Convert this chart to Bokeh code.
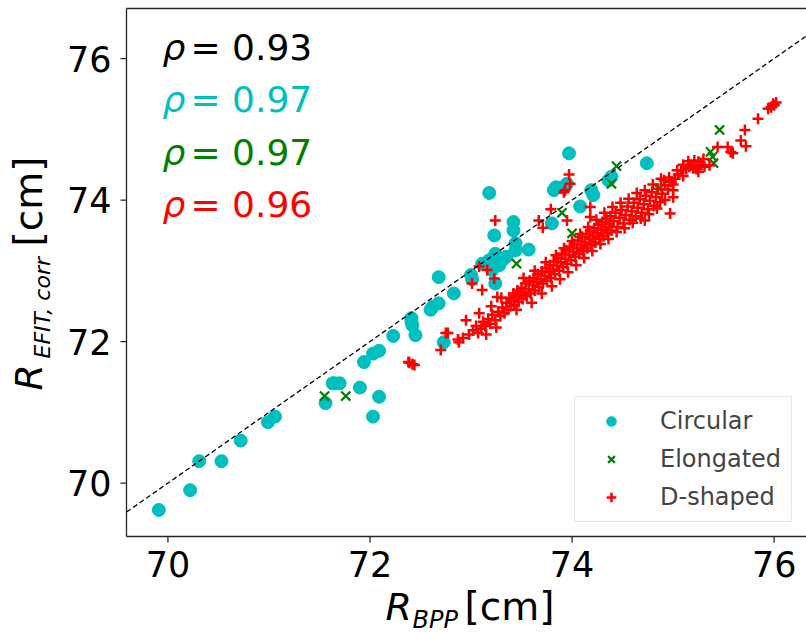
import math
from bokeh.plotting import figure
from bokeh.models import Range1d, Label, Legend, LegendItem
from bokeh.core.properties import value
from bokeh.embed import file_html
from bokeh.resources import INLINE

# ---------------- data ----------------
circ_x = [69.91, 70.22, 70.31, 70.53, 70.72, 70.99, 71.06, 71.56, 71.63, 71.70, 71.65,
          71.90, 72.09, 72.03, 71.94, 72.03, 72.09, 72.23, 72.41, 72.45, 72.42, 72.41,
          72.60, 72.68, 72.62, 72.68, 72.83, 72.73, 73.00, 73.01, 73.24, 73.11, 73.21,
          73.18, 73.31, 73.28, 73.24, 73.35, 73.44, 73.44, 73.57, 73.23, 73.42, 73.42,
          73.80, 73.18, 73.84, 73.82, 73.90, 73.95, 73.97, 74.74, 74.21, 74.19, 74.36,
          74.39, 74.08]
circ_y = [69.62, 69.90, 70.31, 70.31, 70.60, 70.86, 70.94, 71.13, 71.41, 71.41, 71.41,
          71.35, 71.22, 70.94, 71.71, 71.83, 71.87, 72.08, 72.28, 72.09, 72.23, 72.33,
          72.45, 72.54, 72.49, 72.91, 72.68, 71.99, 72.94, 72.88, 72.82, 73.10, 73.01,
          73.15, 73.15, 73.08, 73.24, 73.20, 73.39, 73.29, 73.30, 73.50, 73.69, 73.57,
          73.67, 74.10, 74.18, 74.14, 74.18, 74.23, 74.66, 74.52, 74.07, 74.14, 74.28,
          74.33, 73.91]

elon_x = [71.55, 71.76, 73.45, 73.90, 74.00, 74.44, 74.39, 74.86, 75.46, 75.37, 75.39, 75.40]
elon_y = [71.23, 71.23, 73.10, 73.82, 73.53, 74.48, 74.23, 74.16, 74.99, 74.68, 74.61, 74.52]

dsh_x = [72.38, 72.42, 72.44, 72.39, 72.70, 72.75, 72.77, 72.87, 72.88, 72.95, 73.01, 73.08,
         73.11, 73.16, 73.23, 73.24, 73.26, 73.08, 73.67, 73.71, 73.79, 73.92, 73.95, 73.97,
         73.98, 73.93, 74.18, 74.18, 74.72, 74.97, 74.91, 75.00, 75.00,
         72.92, 72.98, 73.02, 73.05, 73.07, 73.10, 73.12, 73.14, 73.17, 73.19, 73.21, 73.24,
         73.27, 73.29, 73.31, 73.33,
         73.35, 73.36, 73.38, 73.39, 73.40, 73.42, 73.43, 73.45, 73.46, 73.47, 73.49, 73.50,
         73.51, 73.53, 73.54, 73.55, 73.57, 73.58, 73.59, 73.61, 73.62, 73.63, 73.65, 73.66,
         73.67, 73.69, 73.70, 73.71, 73.73, 73.74, 73.75, 73.77, 73.78, 73.79, 73.81, 73.82,
         73.83, 73.85, 73.86, 73.87, 73.89, 73.90, 73.91, 73.93, 73.94, 73.95, 73.97, 73.98,
         73.99, 74.01, 74.02, 74.03, 74.05, 74.06, 74.07, 74.09, 74.10, 74.11, 74.13, 74.14,
         74.15, 74.17, 74.18, 74.19, 74.21, 74.22, 74.23, 74.25, 74.26, 74.27, 74.29, 74.30,
         74.31, 74.33, 74.34, 74.35, 74.37, 74.38, 74.39,
         74.41, 74.43, 74.45, 74.47, 74.49, 74.51, 74.53, 74.55, 74.57, 74.59, 74.61, 74.63,
         74.65, 74.67, 74.69, 74.71, 74.73, 74.75, 74.77, 74.79, 74.81, 74.83, 74.85, 74.87,
         74.89, 74.92, 74.95, 74.98, 75.02, 75.05, 75.08, 75.10, 75.13, 75.16, 75.18, 75.21,
         75.23, 75.25, 75.25, 75.28, 75.31, 75.36,
         75.44, 75.54, 75.57, 75.59, 75.67, 75.71, 75.72, 75.84, 75.94, 75.97, 75.99, 76.00,
         76.02,
         73.45, 73.52, 73.60, 73.63, 73.70, 73.74, 73.80, 73.84, 73.88, 73.92, 73.96, 74.00,
         74.04, 74.08, 74.12, 74.16, 74.20, 74.24, 74.28, 74.32, 74.36, 74.40, 74.44, 74.48,
         74.52, 74.56, 74.60, 74.64, 74.68, 74.72, 74.76, 74.80, 74.84, 74.88, 74.92, 74.96,
         75.00, 75.04, 75.10, 75.15, 75.20, 75.30, 73.20, 73.30, 73.15, 73.25]
dsh_y = [71.71, 71.68, 71.67, 71.70, 71.88, 72.12, 72.12, 72.03, 71.99, 72.30, 72.82, 73.06,
         72.73, 73.01, 72.89, 73.71, 72.63, 72.40, 73.71, 73.61, 73.87, 74.11, 73.71, 74.36,
         74.23, 74.14, 73.90, 73.76, 73.71, 73.81, 74.28, 74.14, 74.04,
         72.05, 72.10, 72.16, 72.22, 72.12, 72.18, 72.28, 72.22, 72.32, 72.25, 72.38, 72.30,
         72.42, 72.36, 72.48, 72.40,
         72.55, 72.45, 72.62, 72.50, 72.58, 72.68, 72.52, 72.64, 72.72, 72.56, 72.66, 72.76,
         72.60, 72.70, 72.82, 72.64, 72.74, 72.86, 72.68, 72.80, 72.90, 72.72, 72.84, 72.95,
         72.77, 72.88, 72.99, 72.82, 72.93, 73.04, 72.86, 72.98, 73.08, 72.90, 73.02, 73.13,
         72.95, 73.07, 73.18, 73.00, 73.12, 73.24, 73.05, 73.17, 73.29, 73.10, 73.22, 73.34,
         73.15, 73.27, 73.38, 73.20, 73.32, 73.43, 73.24, 73.36, 73.48, 73.28, 73.40, 73.52,
         73.32, 73.45, 73.56, 73.36, 73.49, 73.60, 73.40, 73.53, 73.65, 73.45, 73.58, 73.69,
         73.49, 73.62, 73.73, 73.53, 73.66, 73.77, 73.57,
         73.70, 73.82, 73.62, 73.75, 73.86, 73.67, 73.79, 73.91, 73.72, 73.84, 73.96, 73.77,
         73.89, 74.01, 73.82, 73.94, 74.06, 73.87, 73.99, 74.11, 73.92, 74.04, 74.16, 73.97,
         74.09, 74.21, 74.15, 74.26, 74.30, 74.36, 74.42, 74.34, 74.44, 74.47, 74.49, 74.56,
         74.44, 74.54, 74.40, 74.50, 74.47, 74.49,
         74.75, 74.75, 74.68, 74.66, 74.84, 74.99, 74.76, 75.15, 75.29, 75.31, 75.36, 75.34,
         75.38,
         72.45, 72.90, 72.55, 73.00, 72.68, 73.12, 72.78, 73.22, 72.88, 73.32, 72.98, 73.42,
         73.08, 73.52, 73.18, 73.62, 73.28, 73.72, 73.38, 73.82, 73.45, 73.90, 73.55, 73.96,
         73.60, 74.02, 73.68, 74.10, 73.74, 74.14, 73.80, 74.22, 73.88, 74.30, 74.00, 74.32,
         74.22, 74.42, 74.50, 74.55, 74.45, 74.58, 72.50, 72.62, 72.10, 72.20]

x_lim = [69.59, 76.32]
y_lim = [69.245, 76.707]
diag_lim = [69.59, 76.32]          # dashed y = x reference line spans the x limits
x_ticks = [70, 72, 74, 76]
y_ticks = [70, 72, 74, 76]
x_tick_labels = ["70", "72", "74", "76"]
y_tick_labels = ["70", "72", "74", "76"]
series_names = ["Circular", "Elongated", "D-shaped"]
rho_values = ["0.93", "0.97", "0.97", "0.96"]
rho_colors = ["#000000", "#00bfbf", "#008000", "#ff0000"]

FONT = "DejaVu Sans"
W, H = 806, 632
# axes box inside the canvas (pixels): left, right, top, bottom
L, R, T, B = 126, 806, 8, 536
kx = (R - L) / (x_lim[1] - x_lim[0])
ky = (B - T) / (y_lim[1] - y_lim[0])
xr = Range1d(x_lim[0] - L / kx, x_lim[1] + (W - R) / kx)
yr = Range1d(y_lim[0] - (H - B) / ky, y_lim[1] + T / ky)

p = figure(width=W, height=H, x_range=xr, y_range=yr,
           output_backend="svg", toolbar_location=None,
           min_border=0, min_border_left=0, min_border_right=0,
           min_border_top=0, min_border_bottom=0)
p.outline_line_color = None
p.xaxis.visible = False
p.yaxis.visible = False
p.xgrid.visible = False
p.ygrid.visible = False
p.background_fill_color = "white"
p.border_fill_color = "white"

SP = "#262626"
# spines: left, bottom, top
p.segment(x0=[x_lim[0], x_lim[0], x_lim[0]], y0=[y_lim[0], y_lim[0], y_lim[1]],
          x1=[x_lim[0], x_lim[1], x_lim[1]], y1=[y_lim[1], y_lim[0], y_lim[1]],
          line_color=SP, line_width=1.3)
# tick marks
p.ray(x=x_ticks, y=[y_lim[0]] * len(x_ticks), length=6, length_units="screen",
      angle=-90, angle_units="deg", line_color=SP, line_width=1.3)
p.ray(x=[x_lim[0]] * len(y_ticks), y=y_ticks, length=6, length_units="screen",
      angle=180, angle_units="deg", line_color=SP, line_width=1.3)
# tick labels
p.text(x=x_ticks, y=[y_lim[0]] * len(x_ticks), text=x_tick_labels, y_offset=14,
       text_align="center", text_baseline="top", text_font=value(FONT),
       text_font_size="35px", text_color="black")
p.text(x=[x_lim[0]] * len(y_ticks), y=y_ticks, text=y_tick_labels, x_offset=-15,
       text_align="right", text_baseline="middle", text_font=value(FONT),
       text_font_size="35px", text_color="black")

# data
r_c = p.scatter(circ_x, circ_y, marker="circle", size=13, fill_color="#00bfbf",
                line_color="#00bfbf")
r_e = p.scatter(elon_x, elon_y, marker="x", size=13, line_color="#008000", line_width=2.2)
r_d = p.scatter(dsh_x, dsh_y, marker="cross", size=11, line_color="#ff0000", line_width=2.5)
p.line(diag_lim, diag_lim, line_color="black", line_dash="5 3", line_width=1.3)

legend = Legend(items=[LegendItem(label=series_names[0], renderers=[r_c]),
                       LegendItem(label=series_names[1], renderers=[r_e]),
                       LegendItem(label=series_names[2], renderers=[r_d])],
                location=(574, 632 - 522))
legend.label_text_font = FONT
legend.label_text_font_size = "24px"
legend.glyph_width = 52
legend.glyph_height = 24
legend.label_height = 24
legend.spacing = 10
legend.padding = 10
legend.margin = 0
legend.label_standoff = 23
legend.border_line_color = "#cccccc"
legend.border_line_width = 1
legend.background_fill_alpha = 0.8
p.add_layout(legend)


def lab(x, y, t, size, color="black", italic=False, angle=0.0):
    # x, y: canvas pixels from the top-left corner
    p.add_layout(Label(x=x, y=H - y, x_units="screen", y_units="screen", text=t,
                       text_font=FONT, text_font_style="italic" if italic else "normal",
                       text_font_size=size, text_color=color, angle=angle,
                       text_baseline="alphabetic", text_align="left"))


# rho annotations
for i, (val, col) in enumerate(zip(rho_values, rho_colors)):
    yb = 46.5 + 52.6 * i
    lab(162, yb, "ρ", "36px", col, True)
    lab(190, yb, "= " + val, "36px", col)

# x axis label: R_BPP [cm]
lab(385, 606, "R", "38px", italic=True)
lab(412, 619, "BPP", "24px", italic=True)
lab(464, 606, "[cm]", "39px")

# y axis label: R_EFIT,corr [cm]  (rotated)
a = math.pi / 2
lab(28, 390, "R", "38px", italic=True, angle=a)
lab(42, 358, "EFIT, corr", "22px", italic=True, angle=a)
lab(28, 246, "[cm]", "39px", angle=a)

open("out.html", "w").write(file_html(p, INLINE))
